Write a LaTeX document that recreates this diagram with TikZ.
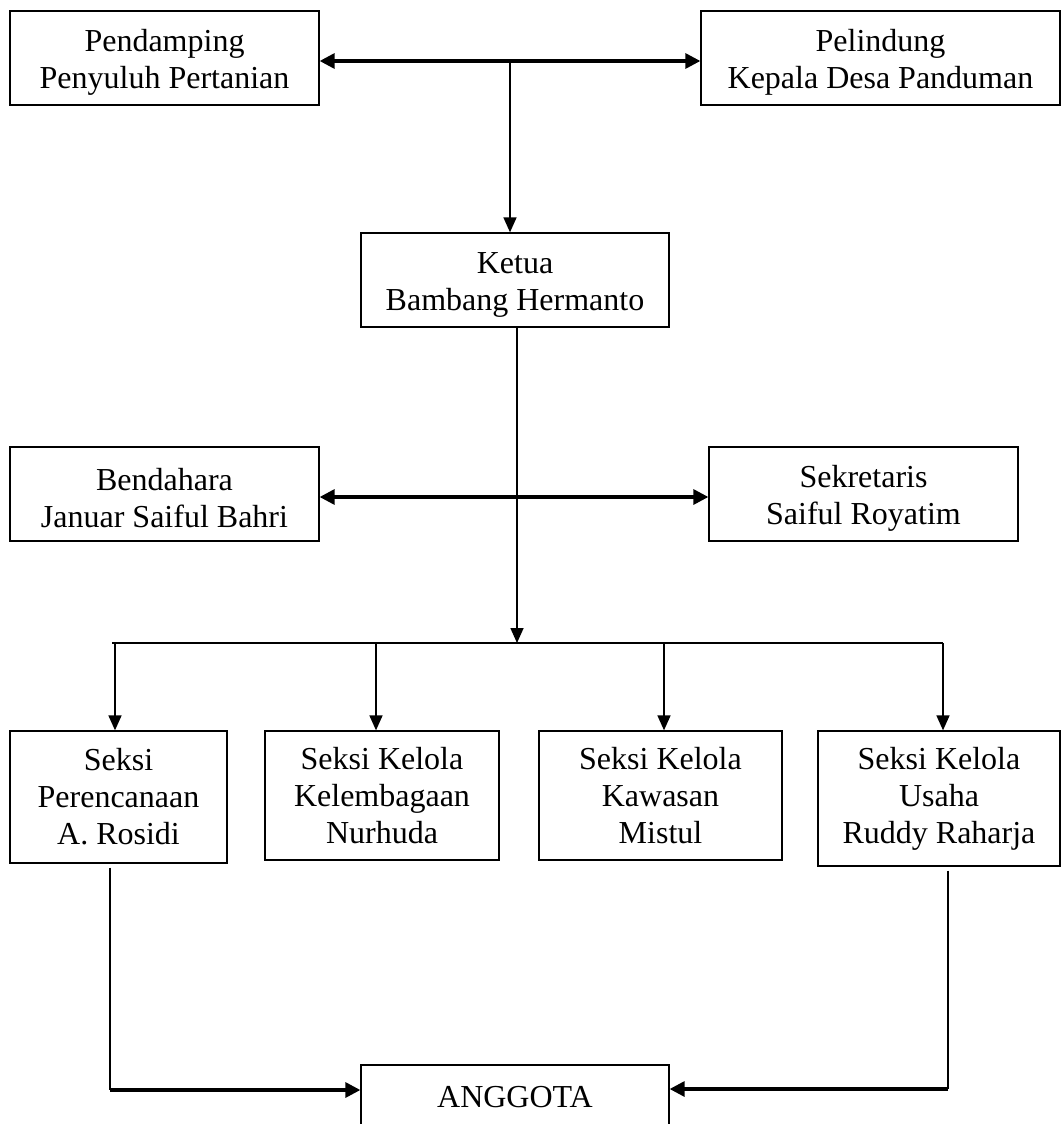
\documentclass[tikz,border=0pt]{standalone}
\usepackage{fontspec}
\setmainfont{Liberation Serif}
\usetikzlibrary{arrows.meta}
\newcommand{\tstrut}{\rule{0pt}{31pt}}
\begin{document}
\begin{tikzpicture}[x=1pt,y=-1pt,
  box/.style={draw, line width=1.3pt, align=center, inner sep=0pt,
    font=\fontsize{32}{37}\selectfont},
  arr/.style={line width=1.6pt, -{Triangle[length=15pt,width=13pt]}},
  thickarr/.style={line width=3.2pt, -{Triangle[length=15pt,width=15pt]}},
  dbl/.style={line width=3.2pt, {Triangle[length=15pt,width=15pt]}-{Triangle[length=15pt,width=15pt]}},
  plain/.style={line width=1.6pt}]
\useasboundingbox[fill=white] (0,0) rectangle (1062,1124);

% top row
\node[box, minimum width=309pt, minimum height=94pt] (pend) at (164.5,58) {\tstrut Pendamping\\Penyuluh Pertanian};
\node[box, minimum width=359pt, minimum height=94pt] (pel) at (880.5,58) {\tstrut Pelindung\\Kepala Desa Panduman};
\node[box, minimum width=308pt, minimum height=94pt] (ketua) at (515,280) {\tstrut Ketua\\Bambang Hermanto};
\node[box, minimum width=309pt, minimum height=94pt] (bend) at (164.5,494) {\tstrut Bendahara\\Januar Saiful Bahri};
\node[box, minimum width=309pt, minimum height=94pt] (sek) at (863.5,494) {\tstrut Sekretaris\\Saiful Royatim};

% seksi row
\node[box, minimum width=217pt, minimum height=132pt] (s1) at (118.5,797) {Seksi\\Perencanaan\\A. Rosidi};
\node[box, minimum width=234pt, minimum height=129pt] (s2) at (382,795.5) {Seksi Kelola\\Kelembagaan\\Nurhuda};
\node[box, minimum width=243pt, minimum height=129pt] (s3) at (660.5,795.5) {Seksi Kelola\\Kawasan\\Mistul};
\node[box, minimum width=242pt, minimum height=135pt] (s4) at (939,798.5) {Seksi Kelola\\Usaha\\Ruddy Raharja};

\node[box, minimum width=308pt, minimum height=64pt] (angg) at (515,1097) {ANGGOTA};

% coordinates
\coordinate (j1) at (510,61);
\coordinate (barL) at (112,643);
\coordinate (barR) at (943,643);
\coordinate (b1) at (115,643);
\coordinate (b2) at (376,643);
\coordinate (b3) at (664,643);
\coordinate (b4) at (943,643);
\coordinate (c1) at (110,1090);
\coordinate (c2) at (948,1089);

% connectors
\draw[dbl] ([yshift=-3pt]pend.east) -- ([yshift=-3pt]pel.west);
\draw[arr] (j1) -- (j1 |- ketua.north);
\draw[arr] ([xshift=2pt]ketua.south) -- ([xshift=2pt]ketua.south |- barL);
\draw[dbl] ([yshift=-3pt]bend.east) -- ([yshift=-3pt]sek.west);
\draw[plain] (barL) -- (barR);
\draw[arr] (b1) -- (b1 |- s1.north);
\draw[arr] (b2) -- (b2 |- s2.north);
\draw[arr] (b3) -- (b3 |- s3.north);
\draw[arr] (b4) -- (b4 |- s4.north);
\draw[plain] ([yshift=-4pt]c1 |- s1.south) -- (c1);
\draw[thickarr] (c1) -- (c1 -| angg.west);
\draw[plain] ([yshift=-4pt]c2 |- s4.south) -- (c2);
\draw[thickarr] (c2) -- (c2 -| angg.east);
\end{tikzpicture}
\end{document}
